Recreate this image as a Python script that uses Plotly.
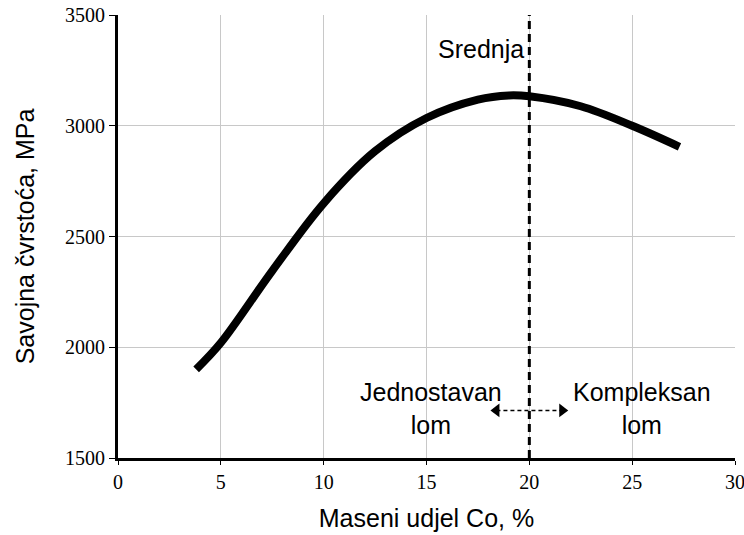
import plotly.graph_objects as go

# Data
co_pct = [3.8, 5.0, 7.5, 10.0, 12.5, 15.0, 17.5, 19.0, 20.0, 22.5, 25.0, 27.3]
strength = [1900, 2020, 2345, 2650, 2885, 3035, 3118, 3137, 3133, 3088, 3000, 2905]

boundary_x = 20
arrow_x = [18.4, 21.6]
arrow_y = [1715, 1715]

x_ticks = [0, 5, 10, 15, 20, 25, 30]
y_ticks = [1500, 2000, 2500, 3000, 3500]

fig = go.Figure()

fig.add_trace(go.Scatter(
    x=co_pct, y=strength, mode="lines",
    line=dict(color="black", width=8, shape="spline", smoothing=1),
    showlegend=False, hoverinfo="skip"
))

fig.add_trace(go.Scatter(
    x=[boundary_x, boundary_x], y=[y_ticks[0], y_ticks[-1]], mode="lines",
    line=dict(color="black", width=3, dash="8px,5px"),
    showlegend=False, hoverinfo="skip"
))

fig.add_trace(go.Scatter(
    x=arrow_x, y=arrow_y, mode="lines+markers",
    line=dict(color="black", width=1.5, dash="4px,3px"),
    marker=dict(symbol=["triangle-left", "triangle-right"], size=12, color="black"),
    showlegend=False, hoverinfo="skip"
))

txt_font = dict(family="Liberation Sans, Arial, sans-serif", size=25, color="black")
fig.add_annotation(x=boundary_x, y=3345, text="Srednja", showarrow=False,
                   xanchor="right", xshift=-3, font=txt_font)
fig.add_annotation(x=15.2, y=1725, text="Jednostavan<br>lom", showarrow=False,
                   font=txt_font)
fig.add_annotation(x=25.5, y=1725, text="Kompleksan<br>lom", showarrow=False,
                   font=txt_font)

tick_font = dict(family="Liberation Serif, Times New Roman, serif", size=20, color="black")
fig.update_xaxes(
    range=[0, 30], tickvals=x_ticks, tickfont=tick_font,
    showgrid=True, gridcolor="#c8c8c8", gridwidth=1,
    showline=True, linecolor="black", linewidth=3, mirror=False,
    ticks="outside", ticklen=4, tickcolor="black",
    zeroline=False, automargin=False, ticklabeloverflow="allow",
    title=dict(text="Maseni udjel Co, %", font=txt_font, standoff=18),
)
fig.update_yaxes(
    range=[1500, 3500], tickvals=y_ticks, tickfont=tick_font,
    showgrid=True, gridcolor="#c8c8c8", gridwidth=1,
    showline=True, linecolor="black", linewidth=3,
    ticks="outside", ticklen=6, tickcolor="black",
    zeroline=False, automargin=False, ticklabeloverflow="allow",
    title=dict(text="Savojna čvrstoća, MPa", font=txt_font, standoff=24),
)

fig.update_layout(
    width=744, height=535,
    margin=dict(l=118, r=9, t=15, b=77),
    plot_bgcolor="white", paper_bgcolor="white",
)

# remove the default page margin so the figure fills the window exactly
fig.write_html("out.html",
               config={"displayModeBar": False},
               post_script="document.body.style.margin='0px';document.body.style.overflow='hidden';")
